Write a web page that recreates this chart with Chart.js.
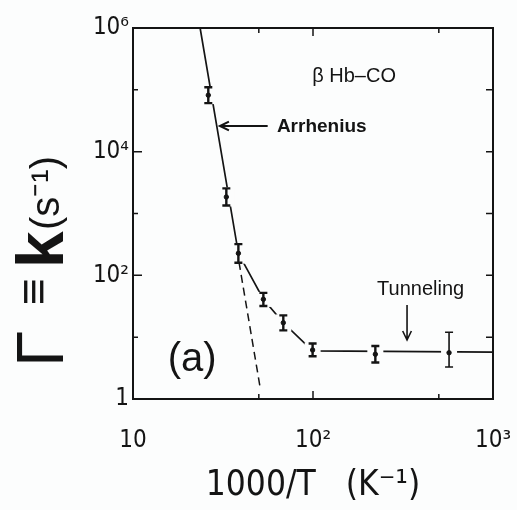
<!DOCTYPE html>
<html>
<head>
<meta charset="utf-8">
<script src="https://cdn.jsdelivr.net/npm/chart.js"></script>
<style>
  html, body { margin: 0; padding: 0; background: #fcfdfd; }
  #wrap { width: 517px; height: 510px; }
</style>
</head>
<body>
<div id="wrap"><canvas id="rateChart" width="517" height="510"></canvas></div>
<script>
// measured rates for beta Hb-CO (with error bars)
var invTemp = [26.2, 33.0, 38.5, 53.0, 68.4, 99.5, 222, 570];
var rate = [8.2e4, 1850, 227, 41, 17.1, 6.2, 5.3, 5.6];
var rateLow = [6.1e4, 1350, 160, 32, 12.9, 4.9, 3.9, 3.3];
var rateHigh = [1.1e5, 2550, 320, 52, 22.5, 7.9, 7.2, 12];

// drawn curve through the data
var curveX = [23.6, 38.5, 53.0, 68.4, 99.5, 1000];
var curveY = [1e6, 227, 41, 17.1, 6.0, 5.75];

// Arrhenius extrapolation (dashed)
var arrheniusX = [38.8, 50.8];
var arrheniusY = [164, 1.56];

var xTicks = [10, 100, 1000];
var xTickText = ['10', '10²', '10³'];
var yTicks = [1, 100, 1e4, 1e6];
var yTickText = ['1', '10²', '10⁴', '10⁶'];
var xMarks = [50, 100, 500];
var yMarks = [10, 100, 1e3, 1e4, 1e5];

var INK = '#141414';
var BG = '#fcfdfd';
var FONT = '"Liberation Sans", Arial, sans-serif';
var NARROW = '"Liberation Sans Narrow", "DejaVu Sans Condensed", "Liberation Sans", sans-serif';

function toPoints(xs, ys) {
    var pts = [];
    for (let i = 0; i < xs.length; i++) {
        pts.push({ x: xs[i], y: ys[i] });
    }
    return pts;
}

function arrow(ctx, x1, y1, x2, y2) {
    var ang = Math.atan2(y2 - y1, x2 - x1);
    ctx.beginPath();
    ctx.moveTo(x1, y1);
    ctx.lineTo(x2, y2);
    ctx.moveTo(x2 - 10 * Math.cos(ang - 0.45), y2 - 10 * Math.sin(ang - 0.45));
    ctx.lineTo(x2, y2);
    ctx.lineTo(x2 - 10 * Math.cos(ang + 0.45), y2 - 10 * Math.sin(ang + 0.45));
    ctx.stroke();
}

var decor = {
    id: 'decor',
    beforeDatasetDraw: function (chart, args) {
        if (args.index !== 0) return;
        var ctx = chart.ctx, x = chart.scales.x, y = chart.scales.y;
        ctx.save();
        for (let i = 0; i < invTemp.length; i++) {
            var px = x.getPixelForValue(invTemp[i]);
            var lo = y.getPixelForValue(rateLow[i]);
            var hi = y.getPixelForValue(rateHigh[i]);
            // gap in the curve around each bar
            ctx.fillStyle = BG;
            ctx.fillRect(px - 8, hi - 1, 16, lo - hi + 2);
            ctx.strokeStyle = INK;
            ctx.lineWidth = i === 7 ? 1.6 : 2.4;
            ctx.beginPath();
            ctx.moveTo(px, lo); ctx.lineTo(px, hi);
            ctx.moveTo(px - 4, lo); ctx.lineTo(px + 4, lo);
            ctx.moveTo(px - 4, hi); ctx.lineTo(px + 4, hi);
            ctx.stroke();
        }
        ctx.restore();
    },
    afterDraw: function (chart) {
        var ctx = chart.ctx, a = chart.chartArea, x = chart.scales.x, y = chart.scales.y;
        ctx.save();
        ctx.strokeStyle = INK;
        ctx.fillStyle = INK;

        // frame
        ctx.lineWidth = 2;
        ctx.strokeRect(a.left, a.top, a.right - a.left, a.bottom - a.top);

        // inward ticks
        ctx.lineWidth = 1.5;
        ctx.beginPath();
        xMarks.forEach(function (v) {
            var px = x.getPixelForValue(v);
            var len = v === 100 ? 8 : 5;
            ctx.moveTo(px, a.bottom); ctx.lineTo(px, a.bottom - len);
            ctx.moveTo(px, a.top); ctx.lineTo(px, a.top + len);
        });
        yMarks.forEach(function (v) {
            var py = y.getPixelForValue(v);
            var len = (v === 100 || v === 1e4) ? 9 : 5;
            ctx.moveTo(a.left, py); ctx.lineTo(a.left + len, py);
            ctx.moveTo(a.right, py); ctx.lineTo(a.right - 7, py);
        });
        ctx.stroke();

        // annotations
        ctx.textBaseline = 'middle';
        ctx.textAlign = 'left';
        ctx.font = '20px ' + FONT;
        ctx.fillText('β Hb\u2013CO', x.getPixelForValue(99), y.getPixelForValue(1.67e5));

        ctx.font = 'bold 19px ' + FONT;
        ctx.fillText('Arrhenius', x.getPixelForValue(63), y.getPixelForValue(2.5e4));
        ctx.lineWidth = 2;
        arrow(ctx, x.getPixelForValue(56), y.getPixelForValue(2.6e4),
            x.getPixelForValue(30.4), y.getPixelForValue(2.6e4));

        ctx.font = '20px ' + FONT;
        ctx.fillText('Tunneling', x.getPixelForValue(227), y.getPixelForValue(58));
        ctx.lineWidth = 1.6;
        arrow(ctx, x.getPixelForValue(333), y.getPixelForValue(33),
            x.getPixelForValue(333), y.getPixelForValue(9));

        ctx.font = '40px ' + FONT;
        ctx.fillText('(a)', x.getPixelForValue(15.6), y.getPixelForValue(4.3));

        // y axis title, rotated
        ctx.translate(63, 367);
        ctx.rotate(-Math.PI / 2);
        ctx.textBaseline = 'alphabetic';
        ctx.font = '66px ' + FONT;
        ctx.fillText('Γ', 0, 0);
        ctx.font = '46px ' + FONT;
        ctx.fillText('≡', 62, -14);
        ctx.font = 'bold 66px ' + FONT;
        ctx.fillText('k', 99, 0);
        ctx.font = '40px ' + FONT;
        ctx.fillText('(s⁻¹)', 137, -4);
        ctx.restore();
    }
};

var ctx = document.getElementById('rateChart').getContext('2d');
var rateChart = new Chart(ctx, {
    type: 'scatter',
    data: {
        datasets: [{
            label: 'data',
            data: toPoints(invTemp, rate),
            pointRadius: 2.2,
            pointBackgroundColor: INK,
            pointBorderColor: INK,
            showLine: false
        }, {
            label: 'curve',
            data: toPoints(curveX, curveY),
            showLine: true,
            borderColor: INK,
            borderWidth: 1.7,
            pointRadius: 0,
            tension: 0
        }, {
            label: 'Arrhenius',
            data: toPoints(arrheniusX, arrheniusY),
            showLine: true,
            borderColor: INK,
            borderWidth: 1.5,
            borderDash: [8, 5],
            pointRadius: 0
        }]
    },
    options: {
        responsive: false,
        animation: false,
        devicePixelRatio: 1,
        layout: { padding: { left: 0, right: 24, top: 28, bottom: 0 } },
        plugins: {
            legend: { display: false },
            tooltip: { enabled: false }
        },
        scales: {
            x: {
                type: 'logarithmic',
                min: 10,
                max: 1000,
                grid: { display: false, drawTicks: false },
                border: { display: false },
                afterBuildTicks: function (scale) {
                    scale.ticks = xTicks.map(function (v) { return { value: v }; });
                },
                afterFit: function (scale) {
                    scale.height = 111;
                    scale.paddingLeft = 0;
                    scale.paddingRight = 0;
                },
                ticks: {
                    padding: 27,
                    color: INK,
                    maxRotation: 0,
                    autoSkip: false,
                    font: { family: NARROW, size: 24 },
                    callback: function (v) {
                        var k = xTicks.indexOf(v);
                        return k >= 0 ? xTickText[k] : '';
                    }
                },
                title: {
                    display: true,
                    text: '1000/T   (K⁻¹)',
                    color: INK,
                    font: { family: NARROW, size: 35, lineHeight: 1.2 },
                    padding: { top: 0, bottom: 3 }
                }
            },
            y: {
                type: 'logarithmic',
                min: 1,
                max: 1e6,
                grid: { display: false, drawTicks: false },
                border: { display: false },
                afterBuildTicks: function (scale) {
                    scale.ticks = yTicks.map(function (v) { return { value: v }; });
                },
                afterFit: function (scale) {
                    scale.width = 133;
                    scale.paddingTop = 0;
                    scale.paddingBottom = 0;
                },
                ticks: {
                    padding: 4,
                    color: INK,
                    autoSkip: false,
                    font: { family: NARROW, size: 24 },
                    callback: function (v) {
                        var k = yTicks.indexOf(v);
                        return k >= 0 ? yTickText[k] : '';
                    }
                }
            }
        }
    },
    plugins: [decor]
});
</script>
</body>
</html>
